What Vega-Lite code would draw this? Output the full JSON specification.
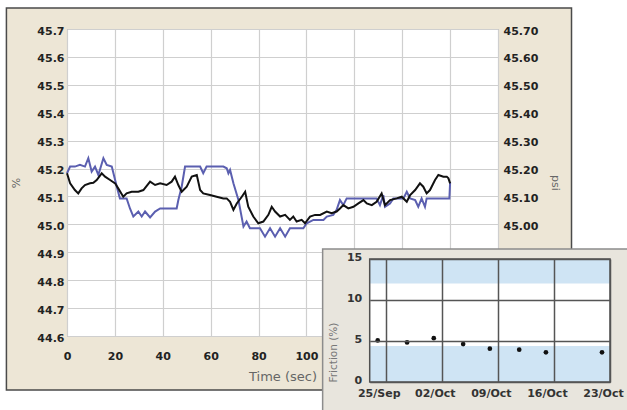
{
  "$schema": "https://vega.github.io/schema/vega-lite/v6.json",
  "width": 431,
  "height": 307,
  "autosize": "none",
  "padding": {"left": 67, "top": 29, "right": 129, "bottom": 74},
  "background": "#ede6d6",
  "config": {
    "view": {"fill": "white", "stroke": "#a0a0a0", "strokeWidth": 1},
    "font": "DejaVu Sans"
  },
  "datasets": {
    "percent": [
      {"t":0,"v":45.183},{"t":1.3,"v":45.207},{"t":3.3,"v":45.207},{"t":5.4,"v":45.213},{"t":7.5,"v":45.207},{"t":8.9,"v":45.237},{"t":10.3,"v":45.189},{"t":11.7,"v":45.207},{"t":13.1,"v":45.177},{"t":15.2,"v":45.237},{"t":16.6,"v":45.213},{"t":18.7,"v":45.207},{"t":20.8,"v":45.135},{"t":22.1,"v":45.093},{"t":24.9,"v":45.093},{"t":26.3,"v":45.057},{"t":27.7,"v":45.028},{"t":29.8,"v":45.046},{"t":31.2,"v":45.028},{"t":32.6,"v":45.046},{"t":34.7,"v":45.025},{"t":36.8,"v":45.046},{"t":38.9,"v":45.057},{"t":45.8,"v":45.057},{"t":46.5,"v":45.087},{"t":47.9,"v":45.135},{"t":49.3,"v":45.207},{"t":55.6,"v":45.207},{"t":56.9,"v":45.183},{"t":58.3,"v":45.207},{"t":65.3,"v":45.207},{"t":66.7,"v":45.201},{"t":67.4,"v":45.183},{"t":68.1,"v":45.195},{"t":69.5,"v":45.147},{"t":71.6,"v":45.087},{"t":73.7,"v":44.992},{"t":75.0,"v":45.01},{"t":76.4,"v":44.986},{"t":80.6,"v":44.986},{"t":82.7,"v":44.956},{"t":84.8,"v":44.986},{"t":86.9,"v":44.956},{"t":89.0,"v":44.986},{"t":91.1,"v":44.956},{"t":93.1,"v":44.986},{"t":98.7,"v":44.986},{"t":100.1,"v":45.004},{"t":102.9,"v":45.016},{"t":107.1,"v":45.016},{"t":108.5,"v":45.028},{"t":111.2,"v":45.034},{"t":112.6,"v":45.052},{"t":114.0,"v":45.087},{"t":115.4,"v":45.069},{"t":116.8,"v":45.093},{"t":129.3,"v":45.093},{"t":130.7,"v":45.069},{"t":132.1,"v":45.105},{"t":132.8,"v":45.063},{"t":134.9,"v":45.075},{"t":136.3,"v":45.093},{"t":140.5,"v":45.093},{"t":141.9,"v":45.117},{"t":143.3,"v":45.093},{"t":145.4,"v":45.087},{"t":146.7,"v":45.063},{"t":148.1,"v":45.093},{"t":149.5,"v":45.063},{"t":150.2,"v":45.093},{"t":159.7,"v":45.093},{"t":160.0,"v":45.15}
    ],
    "psi": [
      {"t":0,"v":45.183},{"t":1.3,"v":45.147},{"t":3.3,"v":45.123},{"t":4.7,"v":45.111},{"t":6.1,"v":45.129},{"t":7.5,"v":45.141},{"t":9.6,"v":45.147},{"t":11.0,"v":45.149},{"t":12.4,"v":45.159},{"t":14.5,"v":45.183},{"t":15.9,"v":45.171},{"t":18.0,"v":45.159},{"t":20.1,"v":45.147},{"t":21.4,"v":45.129},{"t":23.5,"v":45.099},{"t":24.9,"v":45.111},{"t":27.0,"v":45.117},{"t":29.8,"v":45.117},{"t":31.9,"v":45.123},{"t":34.7,"v":45.153},{"t":36.8,"v":45.141},{"t":38.9,"v":45.147},{"t":41.6,"v":45.141},{"t":43.7,"v":45.153},{"t":45.1,"v":45.171},{"t":46.5,"v":45.141},{"t":47.9,"v":45.117},{"t":50.0,"v":45.135},{"t":52.1,"v":45.171},{"t":54.2,"v":45.177},{"t":55.6,"v":45.123},{"t":56.9,"v":45.111},{"t":59.7,"v":45.105},{"t":62.5,"v":45.099},{"t":65.3,"v":45.093},{"t":66.7,"v":45.093},{"t":68.1,"v":45.081},{"t":69.5,"v":45.052},{"t":70.9,"v":45.075},{"t":73.0,"v":45.099},{"t":74.4,"v":45.117},{"t":75.7,"v":45.063},{"t":77.8,"v":45.028},{"t":79.9,"v":45.004},{"t":82.0,"v":45.01},{"t":84.1,"v":45.034},{"t":85.5,"v":45.063},{"t":86.9,"v":45.046},{"t":89.0,"v":45.028},{"t":91.1,"v":45.034},{"t":93.1,"v":45.016},{"t":94.5,"v":45.028},{"t":95.9,"v":45.01},{"t":98.0,"v":45.016},{"t":99.4,"v":45.004},{"t":101.5,"v":45.028},{"t":103.6,"v":45.034},{"t":105.7,"v":45.034},{"t":108.5,"v":45.046},{"t":110.5,"v":45.04},{"t":112.6,"v":45.046},{"t":114.0,"v":45.057},{"t":115.4,"v":45.069},{"t":117.5,"v":45.057},{"t":119.6,"v":45.063},{"t":121.7,"v":45.075},{"t":123.8,"v":45.087},{"t":125.2,"v":45.075},{"t":127.3,"v":45.069},{"t":129.3,"v":45.081},{"t":131.4,"v":45.111},{"t":132.8,"v":45.069},{"t":134.9,"v":45.087},{"t":137.7,"v":45.093},{"t":139.8,"v":45.099},{"t":141.9,"v":45.081},{"t":143.3,"v":45.105},{"t":145.4,"v":45.123},{"t":147.4,"v":45.147},{"t":148.8,"v":45.135},{"t":150.2,"v":45.111},{"t":151.6,"v":45.123},{"t":153.7,"v":45.159},{"t":155.1,"v":45.177},{"t":157.2,"v":45.171},{"t":158.6,"v":45.171},{"t":159.3,"v":45.165},{"t":160.0,"v":45.147}
    ],
    "friction": [
      {"date":"2009-09-25T00:00:00Z","friction":5.07},
      {"date":"2009-09-28T16:00:00Z","friction":4.83},
      {"date":"2009-10-02T00:00:00Z","friction":5.35},
      {"date":"2009-10-05T16:00:00Z","friction":4.63},
      {"date":"2009-10-09T00:00:00Z","friction":4.06},
      {"date":"2009-10-12T16:00:00Z","friction":3.94},
      {"date":"2009-10-16T00:00:00Z","friction":3.62},
      {"date":"2009-10-23T00:00:00Z","friction":3.62}
    ],
    "bands": [
      {"lo":0,"hi":4.4},
      {"lo":12,"hi":15}
    ]
  },
  "resolve": {
    "scale": {"x": "independent", "y": "independent"},
    "axis": {"x": "independent", "y": "independent"}
  },
  "layer": [
    {
      "data": {"name": "percent"},
      "mark": {"type": "line", "color": "#5b5fb0", "strokeWidth": 2},
      "encoding": {
        "x": {
          "field": "t", "type": "quantitative",
          "scale": {"domain": [0, 180], "nice": false, "zero": false},
          "axis": {
            "orient": "bottom",
            "values": [0,20,40,60,80,100,120,140,160,180],
            "grid": true, "gridColor": "#cfcfcf", "gridWidth": 1.2,
            "ticks": false, "domain": false, "labelFlush": false, "labelOverlap": false,
            "labelPadding": 14, "labelFontSize": 11, "labelFontWeight": "bold", "labelColor": "#222",
            "title": "Time (sec)", "titleFontSize": 13, "titleFontWeight": "normal", "titleColor": "#666", "titlePadding": 9
          }
        },
        "y": {
          "field": "v", "type": "quantitative",
          "scale": {"domain": [44.6, 45.7], "nice": false, "zero": false},
          "axis": {
            "orient": "left",
            "values": [44.6,44.7,44.8,44.9,45.0,45.1,45.2,45.3,45.4,45.5,45.6,45.7],
            "format": ".1f",
            "grid": true, "gridColor": "#cfcfcf", "gridWidth": 1.2,
            "ticks": false, "domain": false, "labelOverlap": false,
            "labelPadding": 3, "labelOffset": 2, "labelFontSize": 11, "labelFontWeight": "bold", "labelColor": "#222",
            "title": "%", "titleFontSize": 11, "titleFontWeight": "normal", "titleColor": "#666", "titlePadding": 15
          }
        }
      }
    },
    {
      "data": {"name": "psi"},
      "mark": {"type": "line", "color": "#111111", "strokeWidth": 2},
      "encoding": {
        "x": {"field": "t", "type": "quantitative", "scale": {"domain": [0, 180], "nice": false, "zero": false}, "axis": null},
        "y": {
          "field": "v", "type": "quantitative",
          "scale": {"domain": [44.6, 45.7], "nice": false, "zero": false},
          "axis": {
            "orient": "right",
            "values": [44.6,44.7,44.8,44.9,45.0,45.1,45.2,45.3,45.4,45.5,45.6,45.7],
            "format": ".2f",
            "grid": false, "ticks": false, "domain": false, "labelOverlap": false,
            "labelPadding": 5, "labelOffset": 2, "labelFontSize": 11, "labelFontWeight": "bold", "labelColor": "#222",
            "title": "psi", "titleFontSize": 11, "titleFontWeight": "normal", "titleColor": "#666", "titlePadding": 12
          }
        }
      }
    },
    {
      "data": {"values": [{}]},
      "mark": {"type": "rect", "filled": false, "stroke": "white", "strokeWidth": 60},
      "encoding": {
        "x": {"datum": -37.8, "type": "quantitative", "scale": {"domain": [0, 180], "nice": false, "zero": false}, "axis": null},
        "x2": {"datum": 223.2},
        "y": {"datum": 45.8825, "type": "quantitative", "scale": {"domain": [44.6, 45.7], "nice": false, "zero": false}, "axis": null},
        "y2": {"datum": 44.299}
      }
    },
    {
      "data": {"values": [{}]},
      "mark": {"type": "rect", "filled": false, "stroke": "#4a4a4a", "strokeWidth": 1.5},
      "encoding": {
        "x": {"datum": -25.3, "type": "quantitative", "scale": {"domain": [0, 180], "nice": false, "zero": false}, "axis": null},
        "x2": {"datum": 210.7},
        "y": {"datum": 45.775, "type": "quantitative", "scale": {"domain": [44.6, 45.7], "nice": false, "zero": false}, "axis": null},
        "y2": {"datum": 44.4065}
      }
    },
    {
      "data": {"values": [{}]},
      "mark": {"type": "rect", "fill": "#e8e5dd", "stroke": "#8c8c8c", "strokeWidth": 1.5},
      "encoding": {
        "x": {
          "datum": {"year": 2009, "month": 9, "date": 18, "hours": 3, "utc": true}, "type": "temporal",
          "scale": {"type": "utc", "domain": [{"year": 2009, "month": 9, "date": 24, "utc": true}, {"year": 2009, "month": 10, "date": 24, "utc": true}], "range": [302.7, 543]},
          "axis": null
        },
        "x2": {"datum": {"year": 2009, "month": 10, "date": 28, "utc": true}},
        "y": {"datum": 16.22, "type": "quantitative", "scale": {"domain": [0, 15], "range": [353, 230], "nice": false, "zero": false}, "axis": null},
        "y2": {"datum": -4.5}
      }
    },
    {
      "data": {"values": [{}]},
      "mark": {"type": "rect", "fill": "white"},
      "encoding": {
        "x": {
          "datum": {"year": 2009, "month": 9, "date": 24, "utc": true}, "type": "temporal",
          "scale": {"type": "utc", "domain": [{"year": 2009, "month": 9, "date": 24, "utc": true}, {"year": 2009, "month": 10, "date": 24, "utc": true}], "range": [302.7, 543]},
          "axis": null
        },
        "x2": {"datum": {"year": 2009, "month": 10, "date": 24, "utc": true}},
        "y": {"datum": 0, "type": "quantitative", "scale": {"domain": [0, 15], "range": [353, 230], "nice": false, "zero": false}, "axis": null},
        "y2": {"datum": 15}
      }
    },
    {
      "data": {"name": "bands"},
      "mark": {"type": "rect", "fill": "#cfe4f4"},
      "encoding": {
        "x": {
          "datum": {"year": 2009, "month": 9, "date": 24, "utc": true}, "type": "temporal",
          "scale": {"type": "utc", "domain": [{"year": 2009, "month": 9, "date": 24, "utc": true}, {"year": 2009, "month": 10, "date": 24, "utc": true}], "range": [302.7, 543]},
          "axis": null
        },
        "x2": {"datum": {"year": 2009, "month": 10, "date": 24, "utc": true}},
        "y": {"field": "lo", "type": "quantitative", "scale": {"domain": [0, 15], "range": [353, 230], "nice": false, "zero": false}, "axis": null},
        "y2": {"field": "hi"}
      }
    },
    {
      "data": {"values": [{}]},
      "mark": {"type": "rect", "filled": false, "stroke": "#505050", "strokeWidth": 1.5},
      "encoding": {
        "x": {
          "datum": {"year": 2009, "month": 9, "date": 24, "utc": true}, "type": "temporal",
          "scale": {"type": "utc", "domain": [{"year": 2009, "month": 9, "date": 24, "utc": true}, {"year": 2009, "month": 10, "date": 24, "utc": true}], "range": [302.7, 543]},
          "axis": null
        },
        "x2": {"datum": {"year": 2009, "month": 10, "date": 24, "utc": true}},
        "y": {"datum": 0, "type": "quantitative", "scale": {"domain": [0, 15], "range": [353, 230], "nice": false, "zero": false}, "axis": null},
        "y2": {"datum": 15}
      }
    },
    {
      "data": {"name": "friction"},
      "mark": {"type": "point", "filled": true, "color": "#111111", "size": 22, "opacity": 1},
      "encoding": {
        "x": {
          "field": "date", "type": "temporal",
          "scale": {"type": "utc", "domain": [{"year": 2009, "month": 9, "date": 24, "utc": true}, {"year": 2009, "month": 10, "date": 24, "utc": true}], "range": [302.7, 543]},
          "axis": {
            "orient": "bottom", "offset": 46, "zindex": 1,
            "values": [
              {"year": 2009, "month": 9, "date": 26, "utc": true},
              {"year": 2009, "month": 10, "date": 3, "utc": true},
              {"year": 2009, "month": 10, "date": 10, "utc": true},
              {"year": 2009, "month": 10, "date": 17, "utc": true},
              {"year": 2009, "month": 10, "date": 24, "utc": true}
            ],
            "labelExpr": "utcFormat(datum.value - 86400000, '%d/%b')",
            "grid": false, "domain": false,
            "ticks": true, "tickSize": -123, "tickColor": "#555555", "tickWidth": 1.5,
            "labelPadding": 128.5, "labelOffset": -7, "labelFlush": false, "labelOverlap": false,
            "labelFontSize": 11, "labelFontWeight": "bold", "labelColor": "#333",
            "title": null
          }
        },
        "y": {
          "field": "friction", "type": "quantitative",
          "scale": {"domain": [0, 15], "range": [353, 230], "nice": false, "zero": false},
          "axis": {
            "orient": "left", "offset": -302.7, "zindex": 1,
            "values": [0, 5, 10, 15],
            "grid": false, "domain": false,
            "ticks": true, "tickSize": -240.3, "tickColor": "#555555", "tickWidth": 1.5,
            "labelPadding": 248.3, "labelOffset": -2, "labelOverlap": false, "minExtent": 0,
            "labelFontSize": 11, "labelFontWeight": "bold", "labelColor": "#333",
            "title": "Friction (%)", "titleFontSize": 10.5, "titleFontWeight": "normal", "titleColor": "#777",
            "titleAnchor": "start", "titlePadding": 8
          }
        }
      }
    }
  ]
}
